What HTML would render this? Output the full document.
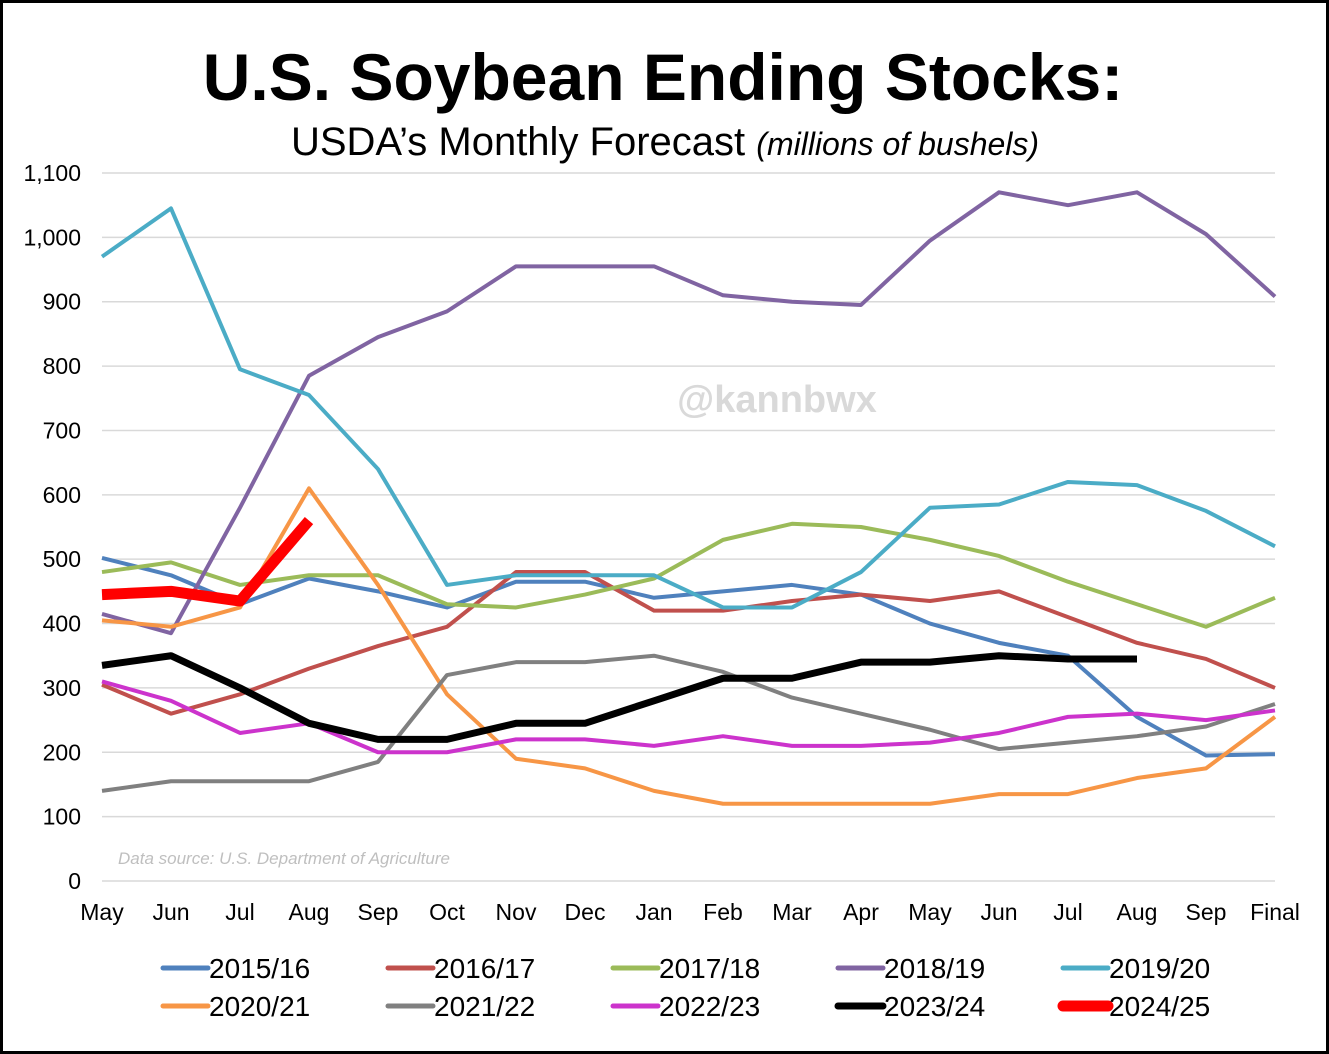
<!DOCTYPE html>
<html><head><meta charset="utf-8"><style>
body{margin:0;background:#fff;}
svg{display:block;font-family:"Liberation Sans",Arial,sans-serif;}
</style></head><body>
<svg id="chart" width="1329" height="1054">
<rect x="1.5" y="1.5" width="1326" height="1051" fill="#fff" stroke="#000" stroke-width="3"/>
<text x="663" y="100" text-anchor="middle" font-size="66" font-weight="bold">U.S. Soybean Ending Stocks:</text>
<text x="665" y="155" text-anchor="middle" font-size="40">USDA’s Monthly Forecast <tspan font-style="italic" font-size="32">(millions  of bushels)</tspan></text>
<g id="grid"></g>
<text x="777" y="412" text-anchor="middle" font-size="38" font-weight="bold" fill="#d9d9d9">@kannbwx</text>
<text x="118" y="864" font-size="17" font-style="italic" fill="#bfbfbf">Data source: U.S. Department of Agriculture</text>
<g id="series"></g>
<g id="legend"></g>
</svg>
<script>
const months=["May","Jun","Jul","Aug","Sep","Oct","Nov","Dec","Jan","Feb","Mar","Apr","May","Jun","Jul","Aug","Sep","Final"];
const yTicks=[0,100,200,300,400,500,600,700,800,900,1000,1100];
const seriesNames=["2015/16","2016/17","2017/18","2018/19","2019/20","2020/21","2021/22","2022/23","2023/24","2024/25"];
const s2015=[502,475,430,470,450,425,465,465,440,450,460,445,400,370,350,255,195,197];
const s2016=[305,260,290,330,365,395,480,480,420,420,435,445,435,450,410,370,345,300];
const s2017=[480,495,460,475,475,430,425,445,470,530,555,550,530,505,465,430,395,440];
const s2018=[415,385,580,785,845,885,955,955,955,910,900,895,995,1070,1050,1070,1005,908];
const s2019=[970,1045,795,755,640,460,475,475,475,425,425,480,580,585,620,615,575,520];
const s2020=[405,395,425,610,460,290,190,175,140,120,120,120,120,135,135,160,175,255];
const s2021=[140,155,155,155,185,320,340,340,350,325,285,260,235,205,215,225,240,275];
const s2022=[310,280,230,245,200,200,220,220,210,225,210,210,215,230,255,260,250,265];
const s2023=[335,350,300,245,220,220,245,245,280,315,315,340,340,350,345,345];
const s2024=[445,450,435,560];
const allSeries=[s2015,s2016,s2017,s2018,s2019,s2020,s2021,s2022,s2023,s2024];
const colors=["#4F81BD","#C0504D","#9BBB59","#8064A2","#4BACC6","#F79646","#808080","#CC33CC","#000000","#FF0000"];
const widths=[4,4,4,4,4,4,4,4,7,11];
const NS="http://www.w3.org/2000/svg";
const x0=102,x1=1275,y0=881,yTop=173,yMax=1100;
const xs=i=>x0+i*(x1-x0)/(months.length-1);
const ys=v=>y0-v*(y0-yTop)/yMax;
function mk(t,a,p){const e=document.createElementNS(NS,t);for(const k in a)e.setAttribute(k,a[k]);p.appendChild(e);return e;}
const grid=document.getElementById('grid');
yTicks.forEach(v=>{
  const l=mk('line',{x1:x0,x2:x1,y1:ys(v),y2:ys(v),stroke:'#d9d9d9','stroke-width':1.5},grid);
  
  
  const t=mk('text',{x:81,y:ys(v)+8,'text-anchor':'end','font-size':23},grid);
  t.textContent=v.toLocaleString('en-US');
  
  
});
months.forEach((m,i)=>{
  const t=mk('text',{x:xs(i),y:920,'text-anchor':'middle','font-size':23},grid);
  t.textContent=m;
  
  
});
const sg=document.getElementById('series');
allSeries.forEach((d,k)=>{
  const p=mk('polyline',{points:d.map((v,i)=>xs(i)+','+ys(v)).join(' '),fill:'none',stroke:colors[k],'stroke-width':widths[k],'stroke-linejoin':'round'},sg);
  
  
});
const lg=document.getElementById('legend');
seriesNames.forEach((n,k)=>{
  const cx=163+(k%5)*225, cy=968+Math.floor(k/5)*38;
  const g=mk('g',{},lg);
  
  
  mk('line',{x1:cx,x2:cx+45,y1:cy,y2:cy,stroke:colors[k],'stroke-width':Math.max(widths[k],5),'stroke-linecap':'round'},g);
  const t=mk('text',{x:cx+46,y:cy+10,'font-size':28},g);
  t.textContent=n;
});
</script>
</body></html>
